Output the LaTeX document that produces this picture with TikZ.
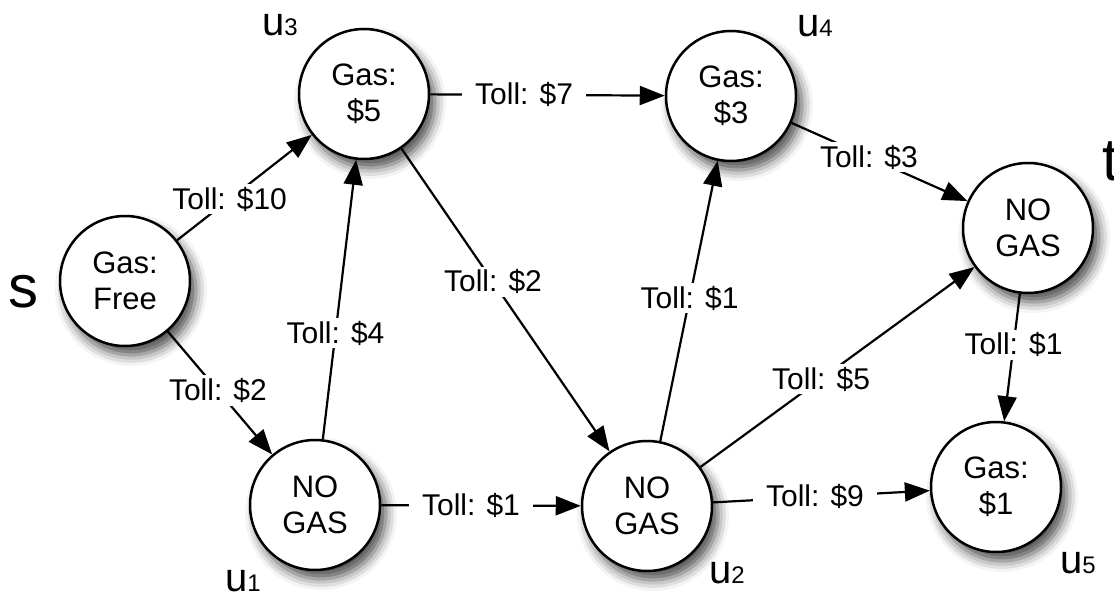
\documentclass[tikz,border=0pt]{standalone}
\usepackage{fontspec}
\setmainfont{Liberation Sans}
\usetikzlibrary{arrows.meta,shadows.blur}
\newcommand\myNodeFont{\fontsize{31}{36}\selectfont}
\newcommand\myLblFont{\fontsize{30}{34}\selectfont}
\newcommand\myBigFont{\fontsize{60}{60}\selectfont}
\newcommand\myUFont{\fontsize{40}{40}\selectfont}
\newcommand\mySubFont{\fontsize{24}{24}\selectfont}
\tikzset{
  state/.style={circle, draw, line width=2.5pt, fill=white, minimum size=130pt,
    inner sep=0pt, align=center, font=\myNodeFont,
    blur shadow={shadow xshift=6pt, shadow yshift=-9pt, shadow blur radius=11pt, shadow opacity=70}},
  edgeline/.style={line width=2.2pt, -{Triangle[length=25pt,width=19pt]}},
  lbl/.style={fill=white, inner xsep=13pt, inner ysep=3pt, font=\myLblFont},
  namelbl/.style={anchor=base west, inner sep=0pt},
}
\begin{document}
\begin{tikzpicture}[x=1pt,y=-1pt]
\useasboundingbox (0,0) rectangle (1114,594);
\node[state] (s)  at (125,281) {Gas:\\Free};
\node[state] (u3) at (364,94)  {Gas:\\\$5};
\node[state] (u4) at (731,96)  {Gas:\\\$3};
\node[state] (t)  at (1028,228) {NO\\GAS};
\node[state] (u1) at (315,505) {NO\\GAS};
\node[state] (u2) at (647,506) {NO\\GAS};
\node[state] (u5) at (996,487) {Gas:\\\$1};

\draw[edgeline] (s)  -- node[lbl,pos=0.39] {Toll: \$10} (u3);
\draw[edgeline] (s)  -- node[lbl,pos=0.48] {Toll: \$2}  (u1);
\draw[edgeline] (u1) -- node[lbl,pos=0.38] {Toll: \$4}  (u3);
\draw[edgeline] (u1) -- node[lbl,pos=0.45] {Toll: \$1}  (u2);
\draw[edgeline] (u3) -- node[lbl,pos=0.40] {Toll: \$7}  (u4);
\draw[edgeline] (u3) -- node[lbl,pos=0.44] {Toll: \$2}  (u2);
\draw[edgeline] (u2) -- node[lbl,pos=0.51] {Toll: \$1}  (u4);
\draw[edgeline] (u4) -- node[lbl,pos=0.44] {Toll: \$3}  (t);
\draw[edgeline] (u2) -- node[lbl,pos=0.44] {Toll: \$5}  (t);
\draw[edgeline] (u2) -- node[lbl,pos=0.47] {Toll: \$9}  (u5);
\draw[edgeline] (t)  -- node[lbl,pos=0.40] {Toll: \$1}  (u5);

\node[namelbl] (ls)  at (8,307)    {\myBigFont s};
\node[namelbl] (lt)  at (1102,180) {\myBigFont t};
\node[namelbl] (lu3) at (262,36)   {\myUFont u\mySubFont 3};
\node[namelbl] (lu4) at (797,37)   {\myUFont u\mySubFont 4};
\node[namelbl] (lu1) at (225,591)  {\myUFont u\mySubFont 1};
\node[namelbl] (lu2) at (709,583)  {\myUFont u\mySubFont 2};
\node[namelbl] (lu5) at (1060,573) {\myUFont u\mySubFont 5};
\end{tikzpicture}
\end{document}
